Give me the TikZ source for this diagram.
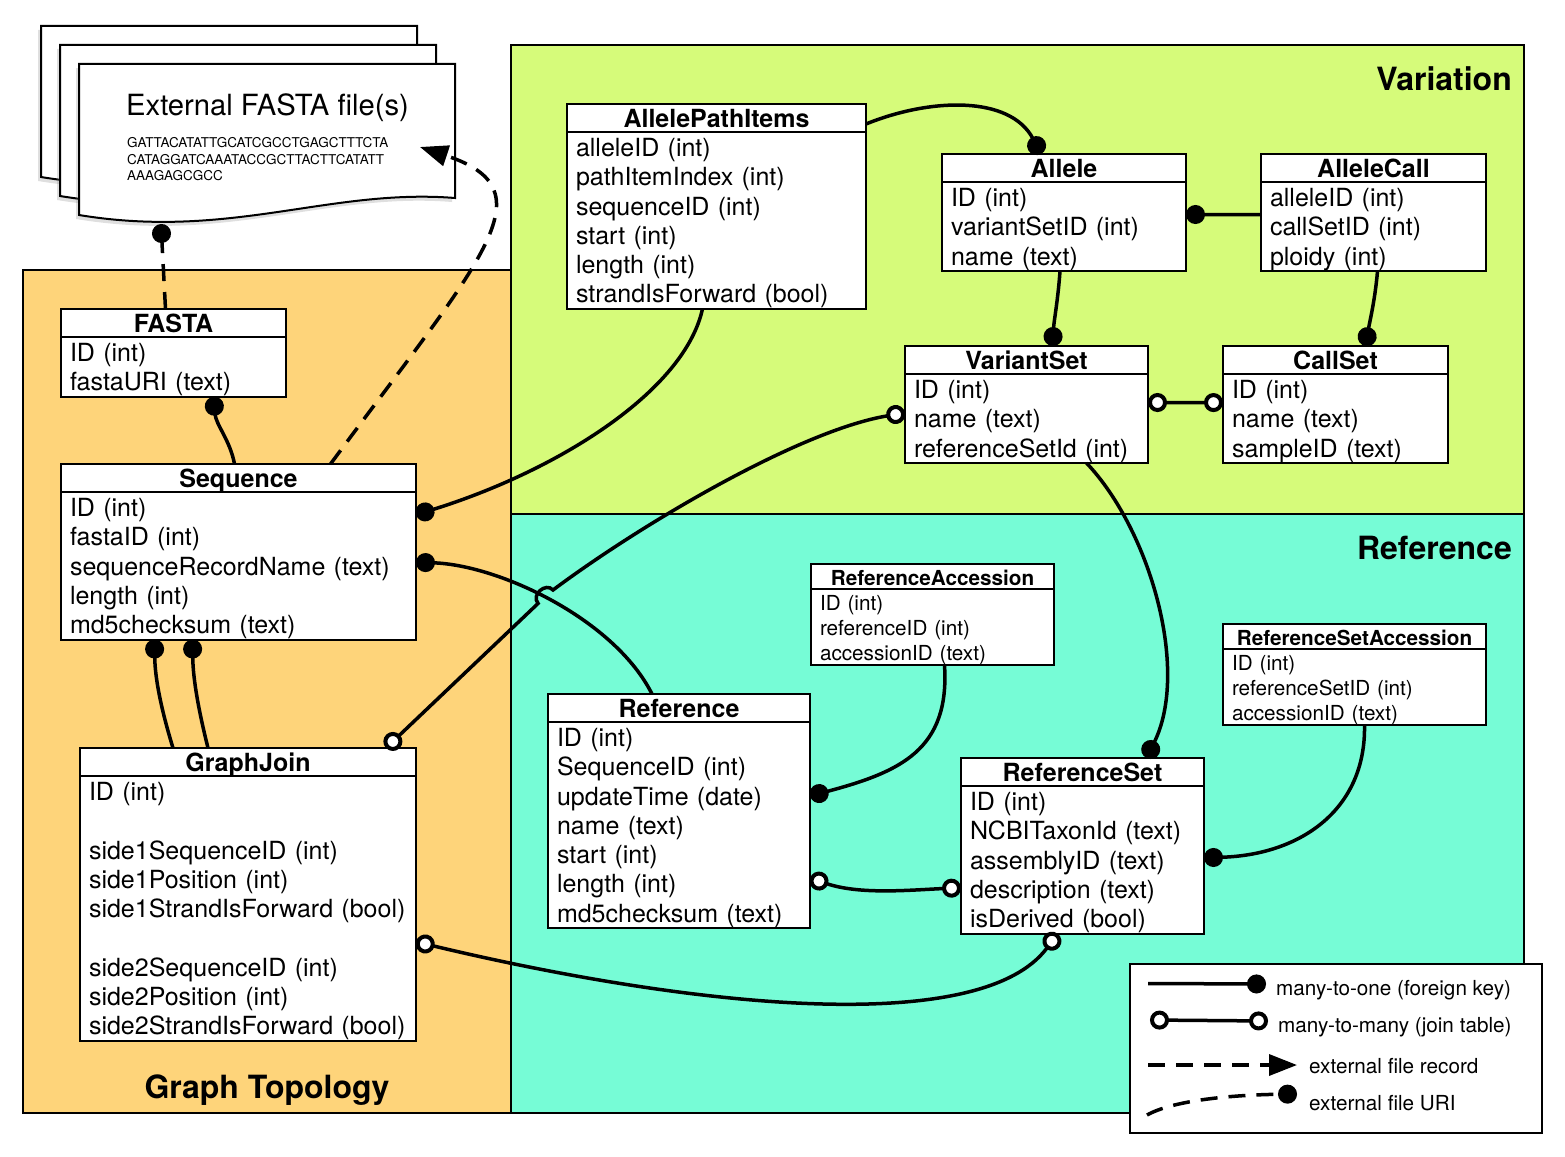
\documentclass[tikz,border=0pt]{standalone}
\usepackage{fontspec}
\setmainfont{TeX Gyre Heros}
\usepackage{tikz}
\usetikzlibrary{positioning}
\usetikzlibrary{arrows.meta}
\usetikzlibrary{shadows}
\usepackage{xcolor}
\definecolor{topocol}{RGB}{254,212,122}
\definecolor{varicol}{RGB}{214,251,122}
\definecolor{refcol}{RGB}{118,252,214}

\begin{document}
\begin{tikzpicture}[x=1pt, y=-1pt]
  \tikzset{
head/.style={draw, fill=white, line width=2pt, outer sep=0pt, inner sep=0pt,
  anchor=north west, minimum height=28pt, text depth=0pt, text height=19pt,
  font=\fontsize{25}{29.25}\selectfont\bfseries},
body/.style={draw, fill=white, line width=2pt, outer sep=0pt,
  inner xsep=9pt, inner ysep=0.5pt, align=left,
  execute at begin node={\rule{0pt}{24.2pt}},
  font=\fontsize{25}{29.25}\selectfont},
smallhead/.style={draw, fill=white, line width=2pt, outer sep=0pt, inner sep=0pt,
  anchor=north west, minimum height=25pt, text depth=0pt, text height=18pt,
  font=\fontsize{20.7}{25}\selectfont\bfseries},
smallbody/.style={draw, fill=white, line width=2pt, outer sep=0pt,
  inner xsep=9pt, inner ysep=0.5pt, align=left,
  execute at begin node={\rule{0pt}{20.8pt}},
  font=\fontsize{20.7}{25}\selectfont},
region/.style={draw, line width=1.5pt},
lbl/.style={inner sep=0pt, font=\fontsize{32}{38}\selectfont\bfseries},
leg/.style={anchor=west, inner sep=0pt, font=\fontsize{20.7}{25}\selectfont},
sheet/.style={draw, fill=white, line width=2pt,
  drop shadow={shadow xshift=-3pt, shadow yshift=-4pt, opacity=0.25}},
fk/.style={line width=3.5pt, -{Circle[length=19pt]}},
mm/.style={line width=3.5pt,
  {Circle[length=19pt, fill=white, line width=4pt]}-{Circle[length=19pt, fill=white, line width=4pt]}},
uri/.style={line width=3.5pt, dash pattern=on 17pt off 11pt, -{Circle[length=19pt]}},
rec/.style={line width=3.5pt, dash pattern=on 17pt off 11pt, -{Triangle[length=28pt, width=21pt]}},
}

  \useasboundingbox (0,0) rectangle (1565,1156);

  % Regions
  \fill [topocol] (23,270) rectangle (511,1113);
  \draw [region] (23,270) rectangle (511,1113);
  \fill [varicol] (511,45) rectangle (1524,514);
  \draw [region] (511,45) rectangle (1524,514);
  \fill [refcol] (511,514) rectangle (1524,1113);
  \draw [region] (511,514) rectangle (1524,1113);
  \node [lbl, anchor=base east] (varlbl) at (1512,90) {Variation};
  \node [lbl, anchor=base east] (reflbl) at (1512,559) {Reference};
  \node [lbl, anchor=base] (topolbl) at (267,1098) {Graph Topology};

  % FASTA documents
  \foreach \s in {38,19,0} {
    \draw [sheet, shift={(-\s,-\s)}] (79,64) -- (455,64) -- (455,198)
      .. controls (330,188) and (230,240) .. (79,215) -- cycle;
  }
  \node [anchor=west, inner sep=0pt, font=\fontsize{29.2}{34}\selectfont] (doctitle) at (126,108) {External FASTA file(s)};
  \node [anchor=north west, inner sep=0pt, align=left, font=\fontsize{13.5}{16.5}\selectfont] (dna) at (127,137.5)
    {GATTACATATTGCATCGCCTGAGCTTTCTA\\CATAGGATCAAATACCGCTTACTTCATATT\\AAAGAGCGCC};
  \coordinate (docdot) at (161,224);
  \coordinate (docarr) at (420,147);

  % Tables
  \node [head, minimum width=225pt] (fastaT) at (61,309) {FASTA};
  \node [body, text width=207pt, below=0pt of fastaT.south west, anchor=north west] (fasta)
    {ID (int)\\fastaURI (text)};
  \node [head, minimum width=355pt] (seqT) at (61,464) {Sequence};
  \node [body, text width=337pt, below=0pt of seqT.south west, anchor=north west] (seq)
    {ID (int)\\fastaID (int)\\sequenceRecordName (text)\\length (int)\\md5checksum (text)};
  \node [head, minimum width=336pt] (joinT) at (80,748) {GraphJoin};
  \node [body, text width=318pt, below=0pt of joinT.south west, anchor=north west] (join)
    {ID (int)\\\mbox{}\\side1SequenceID (int)\\side1Position (int)\\side1StrandIsForward (bool)\\\mbox{}\\side2SequenceID (int)\\side2Position (int)\\side2StrandIsForward (bool)};
  \node [head, minimum width=299pt] (apiT) at (567,104) {AllelePathItems};
  \node [body, text width=281pt, below=0pt of apiT.south west, anchor=north west] (api)
    {alleleID (int)\\pathItemIndex (int)\\sequenceID (int)\\start (int)\\length (int)\\strandIsForward (bool)};
  \node [head, minimum width=244pt] (alleleT) at (942,154) {Allele};
  \node [body, text width=226pt, below=0pt of alleleT.south west, anchor=north west] (allele)
    {ID (int)\\variantSetID (int)\\name (text)};
  \node [head, minimum width=225pt] (callT) at (1261,154) {AlleleCall};
  \node [body, text width=207pt, below=0pt of callT.south west, anchor=north west] (call)
    {alleleID (int)\\callSetID (int)\\ploidy (int)};
  \node [head, minimum width=243pt] (vsetT) at (905,346) {VariantSet};
  \node [body, text width=225pt, below=0pt of vsetT.south west, anchor=north west] (vset)
    {ID (int)\\name (text)\\referenceSetId (int)};
  \node [head, minimum width=225pt] (csetT) at (1223,346) {CallSet};
  \node [body, text width=207pt, below=0pt of csetT.south west, anchor=north west] (cset)
    {ID (int)\\name (text)\\sampleID (text)};
  \node [smallhead, minimum width=243pt] (refaccT) at (811,564) {ReferenceAccession};
  \node [smallbody, text width=225pt, below=0pt of refaccT.south west, anchor=north west] (refacc)
    {ID (int)\\referenceID (int)\\accessionID (text)};
  \node [smallhead, minimum width=263pt] (rsaccT) at (1223,624) {ReferenceSetAccession};
  \node [smallbody, text width=245pt, below=0pt of rsaccT.south west, anchor=north west] (rsacc)
    {ID (int)\\referenceSetID (int)\\accessionID (text)};
  \node [head, minimum width=262pt] (refT) at (548,694) {Reference};
  \node [body, text width=244pt, below=0pt of refT.south west, anchor=north west] (ref)
    {ID (int)\\SequenceID (int)\\updateTime (date)\\name (text)\\start (int)\\length (int)\\md5checksum (text)};
  \node [head, minimum width=243pt] (rsetT) at (961,758) {ReferenceSet};
  \node [body, text width=225pt, below=0pt of rsetT.south west, anchor=north west] (rset)
    {ID (int)\\NCBITaxonId (text)\\assemblyID (text)\\description (text)\\isDerived (bool)};

  % Links
  \draw [uri] ([xshift=-8pt]fastaT.north) -- (docdot);
  \draw [rec] ([xshift=92pt]seqT.north) .. controls (485,255) and (550,190) .. (docarr);
  \draw [fk] ([xshift=-4pt]seqT.north) .. controls (230,440) and (216,425) .. ([xshift=40pt]fasta.south);
  \draw [fk] ([xshift=-14pt]api.south) .. controls (685,390) and (560,470) .. ([yshift=51pt]seq.east);
  \draw [fk] ([yshift=-6pt]apiT.east) .. controls (930,98) and (1010,95) .. ([xshift=-23pt]alleleT.north);
  \draw [fk] ([yshift=12pt]call.west) -- ([yshift=12pt]allele.east);
  \draw [fk] ([xshift=-4pt]allele.south) .. controls (1058,300) and (1054,320) .. ([xshift=26pt]vsetT.north);
  \draw [fk] ([xshift=4pt]call.south) .. controls (1375,300) and (1370,320) .. ([xshift=30pt]csetT.north);
  \draw [mm] ([yshift=16pt]vset.east) -- ([yshift=16pt]cset.west);
  % hop over the Reference link
  \draw [mm] ([yshift=5.5pt]vset.west) .. controls (800,430) and (640,525) .. (553,590)
    .. controls (545.6,581.8) and (530.7,595.2) .. (538.1,603.4) -- ([xshift=138pt]joinT.north);
  \draw [fk] ([xshift=-27pt]refT.north) .. controls (615,620) and (500,565) .. ([yshift=3.5pt]seq.east);
  \draw [fk] ([xshift=12pt]refacc.south) .. controls (950,750) and (900,772) .. ([yshift=29pt]ref.east);
  \draw [mm] ([yshift=-53pt]ref.east) .. controls (860,895) and (910,890) .. ([yshift=-28pt]rset.west);
  \draw [fk] ([xshift=60pt]vset.south) .. controls (1150,530) and (1190,670) .. ([xshift=64pt]rsetT.north);
  \draw [fk] ([xshift=10pt]rsacc.south) .. controls (1366,810) and (1300,855) .. ([yshift=2pt]rset.east);
  \draw [mm] ([yshift=-33.5pt]join.east) .. controls (680,1005) and (980,1040) .. ([xshift=-25pt]rset.south);
  \draw [fk] ([xshift=-75pt]joinT.north) .. controls (162,712) and (155,680) .. ([xshift=-84pt]seq.south);
  \draw [fk] ([xshift=-40pt]joinT.north) .. controls (199,712) and (193,680) .. ([xshift=-46pt]seq.south);

  % Legend
  \node [draw, fill=white, line width=1.5pt, outer sep=0pt, minimum width=412pt, minimum height=169pt,
    anchor=north west] (legend) at (1130,964) {};
  \node [leg] (l1) at (1276,990) {many-to-one (foreign key)};
  \node [leg] (l2) at (1278,1027) {many-to-many (join table)};
  \node [leg] (l3) at (1309,1066) {external file record};
  \node [leg] (l4) at (1309,1103) {external file URI};
  \draw [fk] ([xshift=-128pt,yshift=6.5pt]l1.west) -- ([xshift=-10pt,yshift=6pt]l1.west);
  \draw [mm] ([xshift=-128pt,yshift=7pt]l2.west) -- ([xshift=-10pt,yshift=6pt]l2.west);
  \draw [rec] ([xshift=-161pt,yshift=1pt]l3.west) -- ([xshift=-12pt,yshift=1pt]l3.west);
  \draw [uri] ([xshift=-162pt,yshift=-12pt]l4.west) .. controls +(25pt,14pt) and +(-70pt,-1pt)
    .. ([xshift=-12pt,yshift=9pt]l4.west);
\end{tikzpicture}
\end{document}
